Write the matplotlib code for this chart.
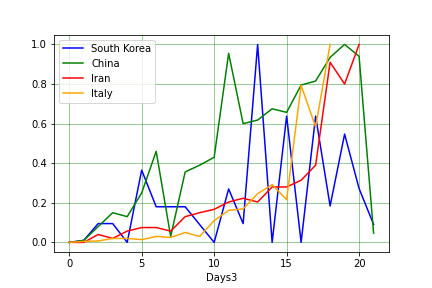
import numpy as np
import matplotlib
matplotlib.use('Agg')
import matplotlib.pyplot as plt

days = list(range(22))
south_korea = [0, 0.01, 0.095, 0.095, 0, 0.365, 0.18, 0.18, 0.18, 0.09, 0, 0.27,
               0.095, 1.0, 0, 0.638, 0, 0.638, 0.184, 0.547, 0.272, 0.091]
china = [0, 0.01, 0.08, 0.15, 0.13, 0.25, 0.46, 0.03, 0.356, 0.39, 0.43, 0.955,
         0.60, 0.618, 0.675, 0.657, 0.795, 0.815, 0.935, 1.0, 0.94, 0.047]
iran = [0, 0, 0.04, 0.02, 0.057, 0.075, 0.075, 0.057, 0.13, 0.15, 0.167, 0.204,
        0.223, 0.204, 0.28, 0.28, 0.314, 0.39, 0.91, 0.80, 1.0]
italy = [0, 0.005, 0.007, 0.02, 0.02, 0.014, 0.03, 0.025, 0.05, 0.03, 0.11, 0.162,
         0.169, 0.246, 0.292, 0.216, 0.793, 0.584, 1.0]

fig = plt.figure(figsize=(6, 4), dpi=72)
ax = fig.add_subplot(111)
fig.subplots_adjust(bottom=0.124)

ax.plot(days, south_korea, color='blue', label='South Korea')
ax.plot(days, china, color='green', label='China')
ax.plot(days[:len(iran)], iran, color='red', label='Iran')
ax.plot(days[:len(italy)], italy, color='orange', label='Italy')

ax.grid(color='green', alpha=0.5)
ax.set_xlabel('Days3')
ax.legend(loc='upper left')

plt.savefig('out.png', dpi=72)
